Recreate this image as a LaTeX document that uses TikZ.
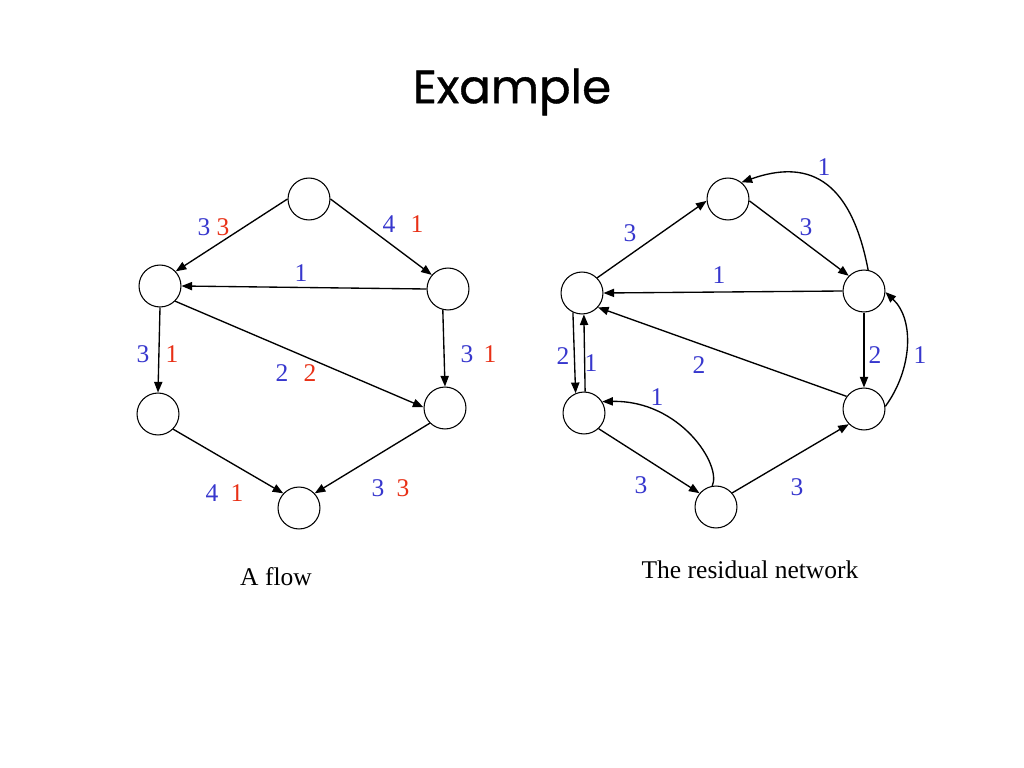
\documentclass[tikz,border=0pt]{standalone}
\usepackage{fontspec}
\setmainfont{Liberation Serif}
\newfontfamily\titlefont[FakeBold=0.8]{Poppins}
\usetikzlibrary{arrows.meta}
\definecolor{lblue}{RGB}{55,55,205}
\definecolor{lred}{RGB}{232,48,22}
\begin{document}
\begin{tikzpicture}[x=0.70575pt,y=-0.70575pt,
  vtx/.style={circle,draw,line width=0.75pt,inner sep=0pt,minimum size=29.6pt},
  arr/.style={line width=0.95pt,-{Triangle[length=7.5pt,width=5.8pt]}},
  bl/.style={text=lblue,font=\fontsize{18}{20}\selectfont,inner sep=0pt},
  rd/.style={text=lred,font=\fontsize{18}{20}\selectfont,inner sep=0pt},
  captext/.style={font=\fontsize{18}{20}\selectfont,inner sep=0pt}]
\useasboundingbox (0,0) rectangle (1024,768);
\node[font=\titlefont\fontsize{33}{40}\selectfont,inner sep=0pt] (title) at (512,92) {Example};
% left graph
\node[vtx] (t) at (309,199) {};
\node[vtx] (lu) at (160,286) {};
\node[vtx] (ru) at (448,289) {};
\node[vtx] (ll) at (158,414) {};
\node[vtx] (rl) at (445,408) {};
\node[vtx] (b) at (299,508) {};
\draw[arr] (t.180) -- (lu.43);
\draw[arr] (t.0) -- (ru.139);
\draw[arr] (ru.180) -- (lu.0);
\draw[arr] (lu.270) -- (ll.90);
\draw[arr] (lu.-45) -- (rl.178);
\draw[arr] (ru.256) -- (rl.90);
\draw[arr] (ll.-45) -- (b.137);
\draw[arr] (rl.225) -- (b.43);
\node[bl] (a1) at (204,227) {3}; \node[rd] (a2) at (223,227) {3};
\node[bl] (a3) at (389,224) {4}; \node[rd] (a4) at (417,224) {1};
\node[bl] (a5) at (301,273) {1};
\node[bl] (a6) at (143,354) {3}; \node[rd] (a7) at (172,354) {1};
\node[bl] (a8) at (282,373) {2}; \node[rd] (a9) at (310,373) {2};
\node[bl] (a10) at (467,354) {3}; \node[rd] (a11) at (490,354) {1};
\node[bl] (a12) at (212,493) {4}; \node[rd] (a13) at (237,493) {1};
\node[bl] (a14) at (378,488) {3}; \node[rd] (a15) at (403,488) {3};
\node[captext] (c1) at (276,577) {A flow};
% right graph
\node[vtx] (T) at (728,199) {};
\node[vtx] (LU) at (582,293) {};
\node[vtx] (RU) at (864,291) {};
\node[vtx] (LL) at (584,413) {};
\node[vtx] (RL) at (864,409) {};
\node[vtx] (B) at (716,507) {};
\draw[arr] (LU.45) -- (T.185);
\draw[arr] (T.355) -- (RU.135);
\draw[arr] (RU.79) .. controls (850,175) and (805,160) .. (T.51);
\draw[arr] (RU.180) -- (LU.0);
\draw[arr] (RU.270) -- (RL.90);
\draw[arr] (RL.7) .. controls (912,370) and (915,320) .. (RU.-3);
\draw[arr] (RL.144) -- (LU.-42);
\draw[arr] (LU.245) -- (LL.113);
\draw[arr] (LL.87) -- (LU.275);
\draw[arr] (LL.-47) -- (B.140);
\draw[arr] (B.100) .. controls (722,465) and (680,400) .. (LL.32);
\draw[arr] (B.41) -- (RL.225);
\node[bl] (r1) at (630,233) {3};
\node[bl] (r2) at (806,227) {3};
\node[bl] (r3) at (824,167) {1};
\node[bl] (r4) at (719,275) {1};
\node[bl] (r5) at (875,355) {2};
\node[bl] (r6) at (920,355) {1};
\node[bl] (r7) at (699,365) {2};
\node[bl] (r8) at (563,356) {2};
\node[bl] (r9) at (591,363) {1};
\node[bl] (r10) at (657,397) {1};
\node[bl] (r11) at (641,485) {3};
\node[bl] (r12) at (797,487) {3};
\node[captext] (c2) at (750,570) {The residual network};
\end{tikzpicture}
\end{document}
